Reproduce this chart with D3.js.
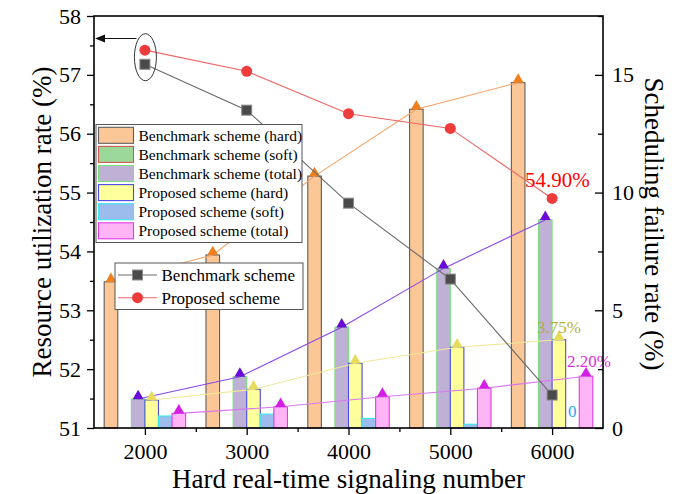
<!DOCTYPE html>
<html>
<head>
<meta charset="utf-8">
<script src="https://cdn.jsdelivr.net/npm/d3@7/dist/d3.min.js"></script>
<style>
  html, body { margin: 0; padding: 0; background: #fff; }
  svg { display: block; }
  svg text { font-family: "Liberation Serif", "Times New Roman", serif; }
</style>
</head>
<body>
<svg id="chart" width="692" height="494"></svg>
<script>
// Hard real-time signaling number (groups on the x axis)
const groups = [2000, 3000, 4000, 5000, 6000];

// Scheduling failure rate (%) – bars, right axis
const benchHard  = [6.21, 7.35, 10.70, 13.54, 14.67];
const benchSoft  = [0, 0, 0, 0, 0];
const benchTotal = [1.23, 2.18, 4.28, 6.78, 8.84];
const propHard   = [1.19, 1.64, 2.75, 3.43, 3.75];
const propSoft   = [0.51, 0.59, 0.41, 0.16, 0];
const propTotal  = [0.62, 0.90, 1.33, 1.69, 2.20];

// Resource utilization rate (%) – point/line series, left axis
const benchUtil = [57.18, 56.40, 54.82, 53.53, 51.56];
const propUtil  = [57.42, 57.06, 56.34, 56.09, 54.90];

// Tick values
const leftTicks   = [51, 52, 53, 54, 55, 56, 57, 58];
const leftMinor   = [51.5, 52.5, 53.5, 54.5, 55.5, 56.5, 57.5];
const rightTicks  = [0, 5, 10, 15];
const rightMinor  = [2.5, 7.5, 12.5, 17.5];
const xMinor      = [2500, 3500, 4500, 5500];

const barSeries = [
  { name: "Benchmark scheme (hard)",  values: benchHard,  fill: "#fbc796", stroke: "#5e5e5e", marker: "#f0801e", line: "#f4a46a" },
  { name: "Benchmark scheme (soft)",  values: benchSoft,  fill: "#9bd89a", stroke: "#cc5a50", marker: null,      line: null },
  { name: "Benchmark scheme (total)", values: benchTotal, fill: "#bfb1d5", stroke: "#7be07b", marker: "#6a0ad8", line: "#8c48e6" },
  { name: "Proposed scheme (hard)",   values: propHard,   fill: "#ffff9c", stroke: "#4a4ae6", marker: "#e6dc5a", line: "#f0e89a" },
  { name: "Proposed scheme (soft)",   values: propSoft,   fill: "#9dbcee", stroke: "#3ee6ee", marker: null,      line: null },
  { name: "Proposed scheme (total)",  values: propTotal,  fill: "#ffb4f6", stroke: "#e03ce6", marker: "#d41ee6", line: "#d878ee" }
];

const serif = "Liberation Serif, Times New Roman, serif";
const svg = d3.select("#chart");
const plotL = 94, plotR = 603, plotT = 16, plotB = 428;

const x  = d3.scaleLinear().domain([1500, 6500]).range([plotL, plotR]);
const yL = d3.scaleLinear().domain([51, 58]).range([plotB, plotT]);
const yR = d3.scaleLinear().domain([0, 17.5]).range([plotB, plotT]);

const bw = x(2000 + 400 / 3) - x(2000);   // width of one bar
const barX = (g, i) => x(g) + (i - 3) * bw;

// Bars
const barsG = svg.append("g");
barSeries.forEach((s, i) => {
  barsG.selectAll(null).data(groups).enter().append("rect")
    .attr("x", (g) => barX(g, i))
    .attr("width", bw)
    .attr("y", (g, k) => yR(s.values[k]))
    .attr("height", (g, k) => yR(0) - yR(s.values[k]))
    .attr("fill", s.fill)
    .attr("stroke", s.stroke)
    .attr("stroke-width", 1.1);
});

// Lines with triangle markers on the bar tops
const triangle = d3.symbol().type(d3.symbolTriangle).size(52);
barSeries.forEach((s, i) => {
  if (!s.line) return;
  const pts = groups.map((g, k) => [barX(g, i) + bw / 2, yR(s.values[k])]);
  svg.append("path")
    .attr("d", d3.line()(pts))
    .attr("fill", "none")
    .attr("stroke", s.line)
    .attr("stroke-width", 1.1);
  svg.selectAll(null).data(pts).enter().append("path")
    .attr("d", triangle)
    .attr("transform", (p) => `translate(${p[0]},${p[1] - 3})`)
    .attr("fill", s.marker);
});

// Value notes on the 6000 group
const last = groups.length - 1;
const pct = d3.format(".2f");
function note(xp, yp, size, color, str) {
  svg.append("text").attr("x", xp).attr("y", yp)
    .attr("font-family", serif).attr("font-size", size)
    .attr("fill", color).text(str);
}
note(537, 333, 17, "#b5af3c", pct(propHard[last]) + "%");
note(567, 367, 17, "#e02ee0", pct(propTotal[last]) + "%");
note(568, 417, 17, "#2aa6f2", String(propSoft[last]));

// Utilization series (left axis)
const benchPts = groups.map((g, k) => [x(g), yL(benchUtil[k])]);
const propPts  = groups.map((g, k) => [x(g), yL(propUtil[k])]);

svg.append("path").attr("d", d3.line()(benchPts))
  .attr("fill", "none").attr("stroke", "#6a6a6a").attr("stroke-width", 1.1);
svg.append("path").attr("d", d3.line()(propPts))
  .attr("fill", "none").attr("stroke", "#f06464").attr("stroke-width", 1.1);

svg.selectAll(null).data(benchPts).enter().append("rect")
  .attr("x", (p) => p[0] - 5).attr("y", (p) => p[1] - 5)
  .attr("width", 10).attr("height", 10)
  .attr("fill", "#4a4a4a").attr("stroke", "#8a8a8a").attr("stroke-width", 1);
svg.selectAll(null).data(propPts).enter().append("circle")
  .attr("cx", (p) => p[0]).attr("cy", (p) => p[1]).attr("r", 5.5)
  .attr("fill", "#ee3b3b");

note(525, 187, 21, "#ff0000", pct(propUtil[last]) + "%");

// Ellipse around the first points with an arrow to the left axis
const ex = x(groups[0]), ey = (yL(benchUtil[0]) + yL(propUtil[0])) / 2;
svg.append("ellipse").attr("cx", ex + 0.5).attr("cy", ey).attr("rx", 11).attr("ry", 23.5)
  .attr("fill", "none").attr("stroke", "#333").attr("stroke-width", 1);
svg.append("line").attr("x1", ex - 8.5).attr("y1", 38.5).attr("x2", plotL + 8).attr("y2", 38.5)
  .attr("stroke", "#111").attr("stroke-width", 1);
svg.append("path")
  .attr("d", `M${plotL + 1},38.5 L${plotL + 11},34.5 L${plotL + 11},42.5 Z`)
  .attr("fill", "#111");

// Axes
function styleAxis(g) {
  g.attr("font-family", serif);
  g.select(".domain").remove();
  g.selectAll(".tick line").attr("stroke", "#000").attr("stroke-width", 1.3);
  g.selectAll(".tick text").attr("font-size", 22).attr("fill", "#000")
    .attr("font-family", serif);
}
function minorTicks(g) {
  g.select(".domain").remove();
  g.selectAll(".tick text").remove();
  g.selectAll(".tick line").attr("stroke", "#000").attr("stroke-width", 1.3);
}

svg.append("g").attr("transform", `translate(${plotL},0)`)
  .call(d3.axisLeft(yL).tickValues(leftTicks).tickSize(7).tickPadding(6).tickFormat(d3.format("d")))
  .call(styleAxis);
svg.append("g").attr("transform", `translate(${plotL},0)`)
  .call(d3.axisLeft(yL).tickValues(leftMinor).tickSize(4))
  .call(minorTicks);

svg.append("g").attr("transform", `translate(${plotR},0)`)
  .call(d3.axisRight(yR).tickValues(rightTicks).tickSize(-8).tickPadding(9).tickFormat(d3.format("d")))
  .call(styleAxis);
svg.append("g").attr("transform", `translate(${plotR},0)`)
  .call(d3.axisRight(yR).tickValues(rightMinor).tickSize(-5))
  .call(minorTicks);

svg.append("g").attr("transform", `translate(0,${plotB})`)
  .call(d3.axisBottom(x).tickValues(groups).tickSize(7).tickPadding(8).tickFormat(d3.format("d")))
  .call(styleAxis);
svg.append("g").attr("transform", `translate(0,${plotB})`)
  .call(d3.axisBottom(x).tickValues(xMinor).tickSize(4))
  .call(minorTicks);

// Frame
svg.append("rect").attr("x", plotL).attr("y", plotT)
  .attr("width", plotR - plotL).attr("height", plotB - plotT)
  .attr("fill", "none").attr("stroke", "#000").attr("stroke-width", 1.6);

// Axis titles
function title(transform, str) {
  svg.append("text").attr("transform", transform)
    .attr("text-anchor", "middle").attr("font-family", serif)
    .attr("font-size", 27).attr("fill", "#000").text(str);
}
title("translate(51,222) rotate(-90)", "Resource utilization rate (%)");
title("translate(645,224) rotate(90)", "Scheduling failure rate (%)");
title(`translate(${(plotL + plotR) / 2},488)`, "Hard real-time signaling number");

// Bar legend
const lg1 = svg.append("g");
lg1.append("rect").attr("x", 96).attr("y", 124.5).attr("width", 206).attr("height", 118)
  .attr("fill", "#fff").attr("stroke", "#555").attr("stroke-width", 1);
barSeries.forEach((s, i) => {
  const cy = 135.3 + i * 19.1;
  lg1.append("rect").attr("x", 98.5).attr("y", cy - 8).attr("width", 35).attr("height", 16)
    .attr("fill", s.fill).attr("stroke", s.stroke).attr("stroke-width", 1.1);
  lg1.append("text").attr("x", 138.5).attr("y", cy + 5.2)
    .attr("font-family", serif).attr("font-size", 15.5).attr("fill", "#000").text(s.name);
});

// Line legend
const lineLegend = [
  { name: "Benchmark scheme", stroke: "#6a6a6a", kind: "square" },
  { name: "Proposed scheme",  stroke: "#f06464", kind: "circle" }
];
const lg2 = svg.append("g");
lg2.append("rect").attr("x", 115).attr("y", 263).attr("width", 188).attr("height", 46.5)
  .attr("fill", "#fff").attr("stroke", "#555").attr("stroke-width", 1);
lineLegend.forEach((s, i) => {
  const cy = 275 + i * 22.7;
  lg2.append("line").attr("x1", 118).attr("x2", 157).attr("y1", cy).attr("y2", cy)
    .attr("stroke", s.stroke).attr("stroke-width", 1.1);
  if (s.kind === "square") {
    lg2.append("rect").attr("x", 132.5).attr("y", cy - 5).attr("width", 10).attr("height", 10)
      .attr("fill", "#4a4a4a").attr("stroke", "#8a8a8a").attr("stroke-width", 1);
  } else {
    lg2.append("circle").attr("cx", 137.5).attr("cy", cy).attr("r", 5.5).attr("fill", "#ee3b3b");
  }
  lg2.append("text").attr("x", 161.5).attr("y", cy + 6)
    .attr("font-family", serif).attr("font-size", 17).attr("fill", "#000").text(s.name);
});
</script>
</body>
</html>
